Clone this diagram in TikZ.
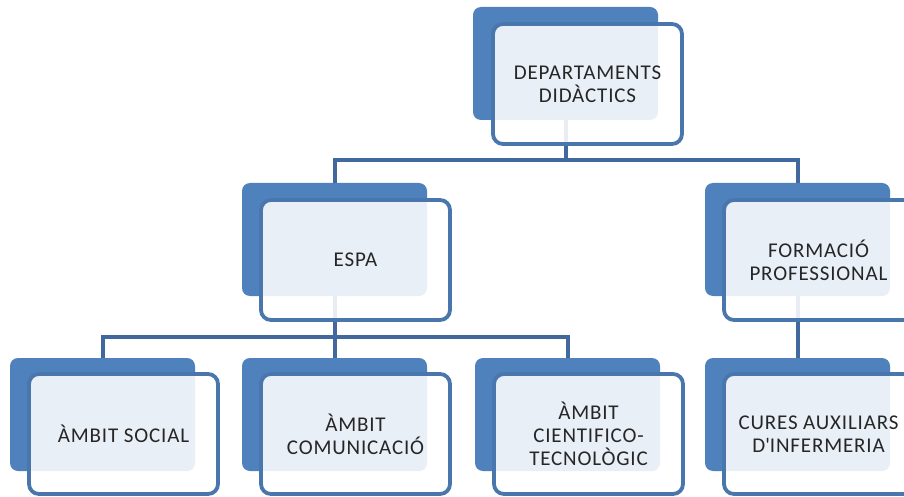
\documentclass[tikz,border=0pt]{standalone}
\usepackage{fontspec}
\setmainfont{Carlito}[LetterSpace=4]
\definecolor{orgblue}{HTML}{4F81BD}
\definecolor{edgeblue}{HTML}{4A76AE}
\definecolor{linkblue}{HTML}{42699E}
\tikzset{
  backbox/.style={fill=orgblue, rounded corners=8pt, minimum width=185pt,
    minimum height=113pt, inner sep=0pt, outer sep=0pt, anchor=north west},
  frontbox/.style={draw=edgeblue, line width=3.8pt, fill=white, fill opacity=0.88,
    text opacity=1, rounded corners=10pt, minimum width=189pt, minimum height=120pt,
    inner sep=0pt, outer sep=0pt, anchor=north west, align=center, text=black!85,
    font=\fontsize{21}{23}\selectfont},
  link/.style={draw=linkblue, line width=4pt}
}
\begin{document}
\begin{tikzpicture}[x=1pt,y=-1pt]
  \clip (0,0) rectangle (904,497);
  \fill[white] (0,0) rectangle (904,497);
  \node at (473,7) [backbox] (dep) {};
  \node at (242,183) [backbox] (espa) {};
  \node at (705,183) [backbox] (fp) {};
  \node at (10,358) [backbox] (soc) {};
  \node at (242,358) [backbox] (com) {};
  \node at (475,358) [backbox] (cie) {};
  \node at (705,358) [backbox] (cur) {};
  \coordinate (bar1) at (0,160);
  \coordinate (bar2) at (0,337);
  \draw [link] (dep.south) -- (dep.south |- bar1);
  \draw [link] (espa.north) -- (espa.north |- bar1) -| (fp.north);
  \draw [link] (espa.south) -- (espa.south |- bar2);
  \draw [link] (soc.north) -- (soc.north |- bar2) -| (cie.north);
  \draw [link] (com.north) -- (com.north |- bar2);
  \draw [link] (fp.south) -- (cur.north);
  \node at (493,24) [frontbox] (dep-t) {DEPARTAMENTS\\DIDÀCTICS};
  \node at (261,200) [frontbox] (espa-t) {ESPA};
  \node at (724,200) [frontbox] (fp-t) {FORMACIÓ\\PROFESSIONAL};
  \node at (29,374) [frontbox] (soc-t) {ÀMBIT SOCIAL};
  \node at (261,374) [frontbox] (com-t) {ÀMBIT\\COMUNICACIÓ};
  \node at (494,374) [frontbox] (cie-t) {ÀMBIT\\CIENTIFICO-\\TECNOLÒGIC};
  \node at (724,374) [frontbox] (cur-t) {CURES AUXILIARS\\D\textquotesingle INFERMERIA};
\end{tikzpicture}
\end{document}
